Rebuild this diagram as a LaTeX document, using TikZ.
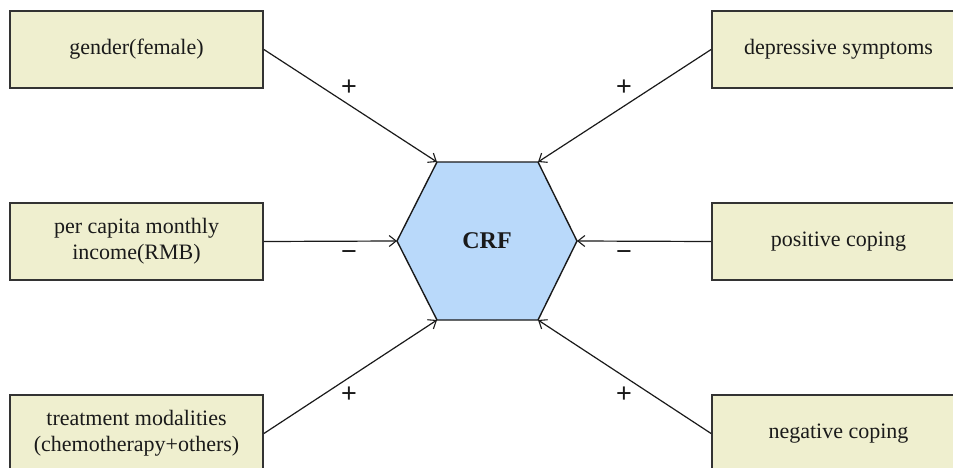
\documentclass[tikz,border=0pt]{standalone}
\usepackage{fontspec}
\setmainfont{Liberation Serif}
\newfontfamily\signfont{Liberation Sans}
\usetikzlibrary{arrows.meta}
\definecolor{boxfill}{HTML}{EFEFCF}
\definecolor{boxline}{HTML}{333333}
\definecolor{hexfill}{HTML}{B9D9FA}
\definecolor{inkcol}{HTML}{1A1A1A}
\tikzset{
  factor/.style={draw=boxline, line width=1.8pt, fill=boxfill,
    minimum width=253pt, minimum height=77pt, inner sep=0pt,
    align=center, text=inkcol, font=\fontsize{22}{26}\selectfont},
  hexshape/.style={draw=inkcol, line width=1.4pt, fill=hexfill},
  link/.style={draw=inkcol, line width=1.2pt,
    -{Straight Barb[length=7pt,width=11pt,line width=1.1pt]}},
  sign/.style={text=inkcol, font=\signfont\fontsize{27}{29}\selectfont, inner sep=0pt},
}
\begin{document}
\begin{tikzpicture}[x=1pt,y=-1pt]
  \useasboundingbox (0,0) rectangle (953,468);
  \clip (0,0) rectangle (953,468);
  \fill[white] (0,0) rectangle (953,468);

  % influencing factors
  \node[factor] (gender) at (136.5,49.5) {gender(female)};
  \node[factor] (income) at (136.5,241.5) {per capita monthly\\income(RMB)};
  \node[factor] (treat)  at (136.5,433.5) {treatment modalities\\(chemotherapy+others)};
  \node[factor] (depr)   at (838.5,49.5) {depressive symptoms};
  \node[factor] (posc)   at (838.5,241.5) {positive coping};
  \node[factor] (negc)   at (838.5,433.5) {negative coping};

  % central hexagon
  \coordinate (htl) at (437,162);
  \coordinate (htr) at (538,162);
  \coordinate (hr)  at (577,241);
  \coordinate (hbr) at (538,320);
  \coordinate (hbl) at (437,320);
  \coordinate (hl)  at (397,241);
  \draw[hexshape] (htl) -- (htr) -- (hr) -- (hbr) -- (hbl) -- (hl) -- cycle;
  \node[text=inkcol, font=\bfseries\fontsize{24}{27}\selectfont] (crf) at (487,241) {CRF};

  % effects on CRF
  \draw[link] (gender.east) -- (htl);
  \draw[link] (income.east) -- (hl);
  \draw[link] (treat.east)  -- (hbl);
  \draw[link] (depr.west)   -- (htr);
  \draw[link] (posc.west)   -- (hr);
  \draw[link] (negc.west)   -- (hbr);

  \node[sign] (s1) at (349,88)  {+};
  \node[sign] (s2) at (349,256) {−};
  \node[sign] (s3) at (349,395) {+};
  \node[sign] (s4) at (624,88)  {+};
  \node[sign] (s5) at (624,256) {−};
  \node[sign] (s6) at (624,395) {+};
\end{tikzpicture}
\end{document}
